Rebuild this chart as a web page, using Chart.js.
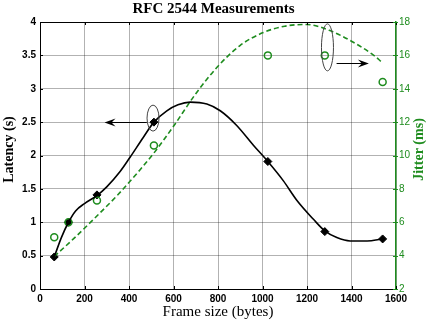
<!DOCTYPE html>
<html>
<head>
<meta charset="utf-8" />
<title>RFC 2544 Measurements</title>
<script src="https://cdn.jsdelivr.net/npm/chart.js@4"></script>
<style>
  html, body { margin: 0; padding: 0; background: #fff; }
</style>
</head>
<body>
<canvas id="rfcChart" width="427" height="322"></canvas>
<script>
// measured frame sizes (bytes)
const frameSizes = [64, 128, 256, 512, 1024, 1280, 1540];
// latency (s) and jitter (ms) at those sizes
const latency = [0.48, 1.0, 1.41, 2.5, 1.91, 0.86, 0.75];
const jitter = [5.1, 6.0, 7.3, 10.6, 16.0, 16.0, 14.4];

// fitted curves
const latFitX = [64, 96, 128, 160, 200, 256, 300, 360, 404, 464, 512, 570, 620, 675, 750, 810, 884, 960, 1024, 1094, 1154, 1230, 1280, 1334, 1394, 1470, 1540];
const latFitY = [0.48, 0.77, 1.0, 1.17, 1.28, 1.40, 1.53, 1.76, 1.97, 2.27, 2.50, 2.67, 2.76, 2.80, 2.77, 2.67, 2.45, 2.15, 1.91, 1.62, 1.33, 1.04, 0.87, 0.77, 0.72, 0.72, 0.75];
const jitFitX = [64, 150, 250, 350, 450, 512, 600, 700, 800, 900, 1000, 1100, 1200, 1300, 1400, 1500, 1536];
const jitFitY = [3.95, 5.0, 6.3, 7.65, 9.15, 10.15, 11.75, 13.7, 15.35, 16.6, 17.35, 17.75, 17.85, 17.5, 16.85, 16.0, 15.6];

const xTicks = [0, 200, 400, 600, 800, 1000, 1200, 1400, 1600];

const green = '#1e8c1e';
const gridColor = 'rgba(0,0,0,0.3)';

function pairs(xs, ys) {
	return xs.map((v, i) => ({x: v, y: ys[i]}));
}

// ellipses, arrows, frame ticks and axis titles
const extras = {
	id: 'extras',
	afterDatasetsDraw(chart) {
		const {ctx, chartArea: a, scales} = chart;
		const x = scales.x, y = scales.y, y2 = scales.y2;
		ctx.save();
		ctx.strokeStyle = '#000';
		ctx.lineWidth = 1;
		ctx.beginPath();
		ctx.moveTo(a.left, a.top + 0.5);
		ctx.lineTo(a.right, a.top + 0.5);
		// inward tick marks
		x.ticks.forEach(t => {
			const px = Math.round(x.getPixelForValue(t.value)) + 0.5;
			ctx.moveTo(px, a.bottom);
			ctx.lineTo(px, a.bottom - 3);
			ctx.moveTo(px, a.top);
			ctx.lineTo(px, a.top + 3);
		});
		y.ticks.forEach(t => {
			const py = Math.round(y.getPixelForValue(t.value)) + 0.5;
			ctx.moveTo(a.left, py);
			ctx.lineTo(a.left + 3, py);
		});
		ctx.stroke();
		ctx.strokeStyle = green;
		ctx.beginPath();
		y2.ticks.forEach(t => {
			const py = Math.round(y2.getPixelForValue(t.value)) + 0.5;
			ctx.moveTo(a.right - 3, py);
			ctx.lineTo(a.right + 2, py);
		});
		ctx.stroke();

		ctx.strokeStyle = '#444';
		ctx.beginPath();
		ctx.ellipse(x.getPixelForValue(508), y.getPixelForValue(2.56), 6, 13, 0, 0, Math.PI * 2);
		ctx.stroke();
		ctx.beginPath();
		ctx.ellipse(x.getPixelForValue(1292), y.getPixelForValue(3.62), 6, 23.5, 0, 0, Math.PI * 2);
		ctx.stroke();

		function arrow(x0, x1, yv) {
			const px0 = x.getPixelForValue(x0), px1 = x.getPixelForValue(x1), py = Math.round(y.getPixelForValue(yv)) + 0.5;
			const dir = Math.sign(px1 - px0);
			ctx.strokeStyle = '#000';
			ctx.fillStyle = '#000';
			ctx.beginPath();
			ctx.moveTo(px0, py);
			ctx.lineTo(px1 - dir * 6, py);
			ctx.stroke();
			ctx.beginPath();
			ctx.moveTo(px1, py);
			ctx.lineTo(px1 - dir * 11, py - 4);
			ctx.lineTo(px1 - dir * 7, py);
			ctx.lineTo(px1 - dir * 11, py + 4);
			ctx.closePath();
			ctx.fill();
		}
		arrow(480, 290, 2.5);
		arrow(1333, 1478, 3.38);

		// rotated axis titles, both reading bottom to top
		const midY = (a.top + a.bottom) / 2 - 6;
		ctx.font = 'bold 14px "Liberation Serif", serif';
		ctx.textAlign = 'center';
		ctx.textBaseline = 'middle';
		ctx.save();
		ctx.fillStyle = '#000';
		ctx.translate(9, midY);
		ctx.rotate(-Math.PI / 2);
		ctx.fillText('Latency (s)', 0, 0);
		ctx.restore();
		ctx.fillStyle = green;
		ctx.translate(419, midY);
		ctx.rotate(-Math.PI / 2);
		ctx.fillText('Jitter (ms)', 0, 0);
		ctx.restore();
	}
};

const tickFont = {family: '"Liberation Sans", Arial, sans-serif', size: 10, weight: 'bold'};

new Chart(document.getElementById('rfcChart').getContext('2d'), {
	type: 'scatter',
	data: {
		datasets: [
			{
				label: 'Latency fit',
				data: pairs(latFitX, latFitY),
				showLine: true,
				borderColor: '#000',
				borderWidth: 1.6,
				pointRadius: 0,
				cubicInterpolationMode: 'monotone',
				yAxisID: 'y'
			},
			{
				label: 'Jitter fit',
				data: pairs(jitFitX, jitFitY),
				showLine: true,
				borderColor: green,
				borderWidth: 1.6,
				borderDash: [5, 3],
				pointRadius: 0,
				cubicInterpolationMode: 'monotone',
				yAxisID: 'y2'
			},
			{
				label: 'Jitter',
				data: pairs(frameSizes, jitter),
				pointStyle: 'circle',
				pointRadius: 3.5,
				borderColor: green,
				borderWidth: 1.5,
				backgroundColor: 'rgba(0,0,0,0)',
				yAxisID: 'y2'
			},
			{
				label: 'Latency',
				data: pairs(frameSizes, latency),
				pointStyle: 'rectRot',
				pointRadius: 4,
				borderColor: '#000',
				backgroundColor: '#000',
				yAxisID: 'y'
			}
		]
	},
	options: {
		responsive: false,
		animation: false,
		layout: {padding: 0},
		plugins: {
			legend: {display: false},
			tooltip: {enabled: false},
			title: {
				display: true,
				text: 'RFC 2544 Measurements',
				color: '#000',
				font: {family: '"Liberation Serif", serif', size: 15, weight: 'bold'},
				padding: {top: 0, bottom: 4}
			}
		},
		scales: {
			x: {
				type: 'linear',
				min: 0,
				max: 1600,
				afterBuildTicks: (s) => { s.ticks = xTicks.map(v => ({value: v})); },
				afterFit: (s) => { s.height = 33; },
				border: {color: '#000', width: 1},
				grid: {color: gridColor, drawTicks: false},
				ticks: {color: '#000', font: tickFont, padding: 4, callback: v => String(v)},
				title: {
					display: true,
					text: 'Frame size (bytes)',
					color: '#000',
					font: {family: '"Liberation Serif", serif', size: 15},
					padding: {top: 0, bottom: 1}
				}
			},
			y: {
				position: 'left',
				min: 0,
				max: 4,
				afterFit: (s) => { s.width = 40; },
				border: {color: '#000', width: 1},
				grid: {color: gridColor, drawTicks: false},
				ticks: {stepSize: 0.5, color: '#000', font: tickFont, padding: 4, callback: v => String(v)}
			},
			y2: {
				position: 'right',
				min: 2,
				max: 18,
				afterFit: (s) => { s.width = 31; },
				border: {color: green, width: 1.5},
				grid: {drawOnChartArea: false, drawTicks: false},
				ticks: {
					stepSize: 2,
					color: green,
					font: {family: '"Liberation Sans", Arial, sans-serif', size: 10},
					padding: 3,
					callback: v => String(v)
				}
			}
		}
	},
	plugins: [extras]
});
</script>
</body>
</html>
